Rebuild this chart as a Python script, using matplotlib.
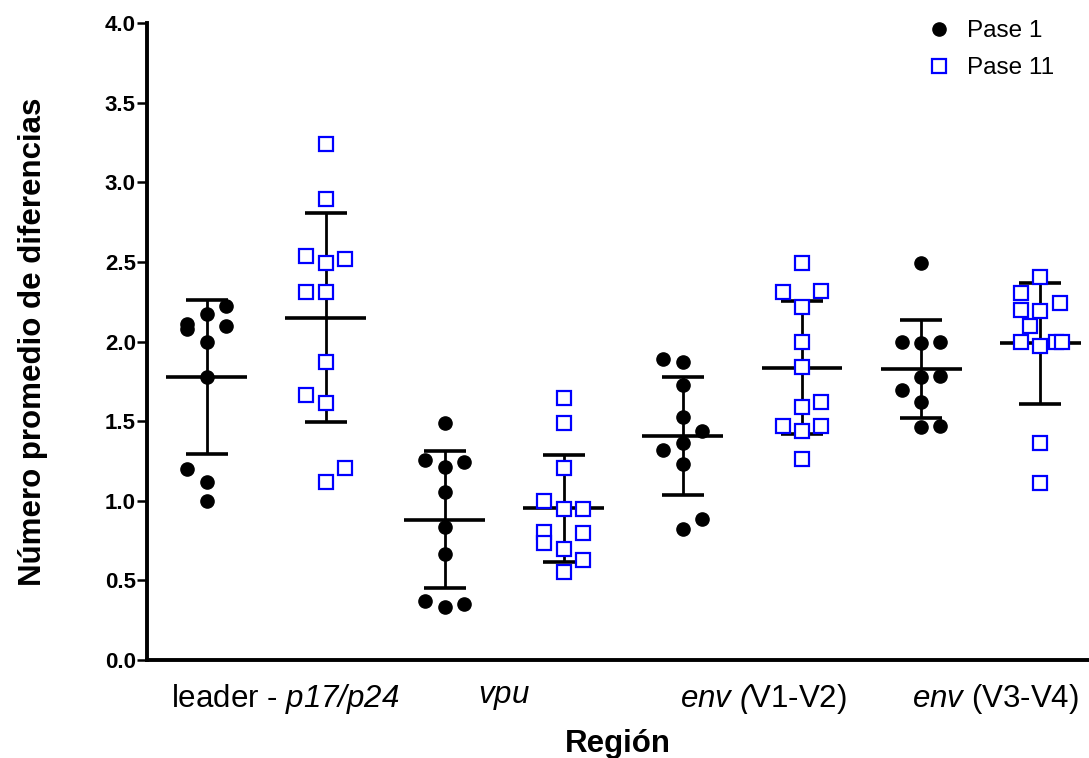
import numpy as np
import matplotlib
matplotlib.use("Agg")
import matplotlib.pyplot as plt

plt.rcParams['font.family'] = ['Liberation Sans', 'DejaVu Sans']
plt.rcParams['mathtext.fontset'] = 'custom'
# everything inside $...$ is italic (digits and '/' included)
plt.rcParams['mathtext.rm'] = 'Liberation Sans:italic'
plt.rcParams['mathtext.it'] = 'Liberation Sans:italic'

# Número promedio de diferencias por región (Pase 1 / Pase 11)
region_labels = [r'leader - $p17/p24$', r'$vpu$',
                 r'$env\ ($V1-V2)', r'$env$ (V3-V4)']

pase1 = [
    [2.225, 2.173, 2.11, 2.08, 2.10, 1.995, 1.775, 1.197, 1.12, 0.998],
    [1.486, 1.256, 1.245, 1.214, 1.053, 0.837, 0.664, 0.373, 0.35, 0.331],
    [1.888, 1.869, 1.727, 1.524, 1.44, 1.365, 1.319, 1.231, 0.885, 0.821],
    [2.495, 1.995, 1.988, 1.995, 1.775, 1.783, 1.695, 1.618, 1.465, 1.469],
]
pase11 = [
    [3.24, 2.893, 2.537, 2.52, 2.495, 2.311, 2.311, 1.873, 1.662, 1.616, 1.208, 1.12],
    [1.643, 1.486, 1.204, 0.998, 0.946, 0.946, 0.795, 0.806, 0.733, 0.697, 0.628, 0.551],
    [2.495, 2.309, 2.319, 2.215, 1.995, 1.842, 1.622, 1.587, 1.471, 1.471, 1.438, 1.26],
    [2.407, 2.302, 2.198, 2.244, 2.193, 2.097, 1.995, 1.972, 1.995, 1.995, 1.365, 1.11],
]
# horizontal slot of each point inside its column (scatter-dot layout)
slots1 = [
    [1, 0, -1, -1, 1, 0, 0, -1, 0, 0],
    [0, -1, 1, 0, 0, 0, 0, -1, 1, 0],
    [-1, 0, 0, 0, 1, 0, -1, 0, 1, 0],
    [0, -1, 0, 1, 0, 1, -1, 0, 0, 1],
]
slots11 = [
    [0, 0, -1, 1, 0, -1, 0, 0, -1, 0, 1, 0],
    [0, 0, 0, -1, 0, 1, 1, -1, -1, 0, 1, 0],
    [0, -1, 1, 0, 0, 0, 1, 0, -1, 1, 0, 0],
    [0, -1, -1, 1, 0, -0.5, -1, 0, 0.8, 1.1, 0, 0],
]

spread = 0.163

fig = plt.figure(figsize=(10.89, 7.58), dpi=100)
ax = fig.add_axes([147 / 1089, 98 / 758, 942 / 1089, 637 / 758])


def draw_group(x, vals, slots, **kw):
    vals = np.asarray(vals)
    m = vals.mean()
    sd = vals.std(ddof=1)
    ax.vlines(x, m - sd, m + sd, color='black', lw=2.0, zorder=2)
    ax.hlines([m - sd, m + sd], x - 0.176, x + 0.176, color='black', lw=2.6, zorder=2)
    ax.hlines(m, x - 0.34, x + 0.34, color='black', lw=2.6, zorder=2)
    return ax.plot(x + spread * np.asarray(slots), vals, linestyle='none', zorder=3, **kw)[0]


for i in range(4):
    h1 = draw_group(2 * i, pase1[i], slots1[i], marker='o', ms=9.5,
                    mfc='black', mec='black', label='Pase 1')
    h11 = draw_group(2 * i + 1, pase11[i], slots11[i], marker='s', ms=10,
                     mfc='white', mec='#0000ff', mew=1.6, label='Pase 11')

ax.set_xlim(-0.5, 7.41)
ax.set_ylim(0, 4.0)
ax.set_yticks(np.arange(0, 4.01, 0.5))
ax.set_yticklabels([f'{v:.1f}' for v in np.arange(0, 4.01, 0.5)],
                   fontsize=16, fontweight='bold')
ax.tick_params(axis='y', length=7, width=1.8, pad=1)

ax.set_xticks([0.66, 2.5, 4.68, 6.62])
ax.set_xticklabels(region_labels, fontsize=22.5)
ax.tick_params(axis='x', length=0, pad=16)

for s in ['top', 'right']:
    ax.spines[s].set_visible(False)
for s in ['left', 'bottom']:
    ax.spines[s].set_linewidth(2.8)

ax.set_ylabel('Número promedio de diferencias', fontsize=22.5, fontweight='bold')
ax.yaxis.set_label_coords(-0.105, 0.5)
ax.set_xlabel('Región', fontsize=22.5, fontweight='bold', labelpad=9)

fig.legend(handles=[h1, h11], loc='upper left', bbox_to_anchor=(927 / 1089, 1 - 20 / 758),
           frameon=False, fontsize=17.5, handlelength=1.0, handletextpad=0.65,
           labelspacing=0.62, borderpad=0, borderaxespad=0)

fig.savefig('out.png', dpi=100)
